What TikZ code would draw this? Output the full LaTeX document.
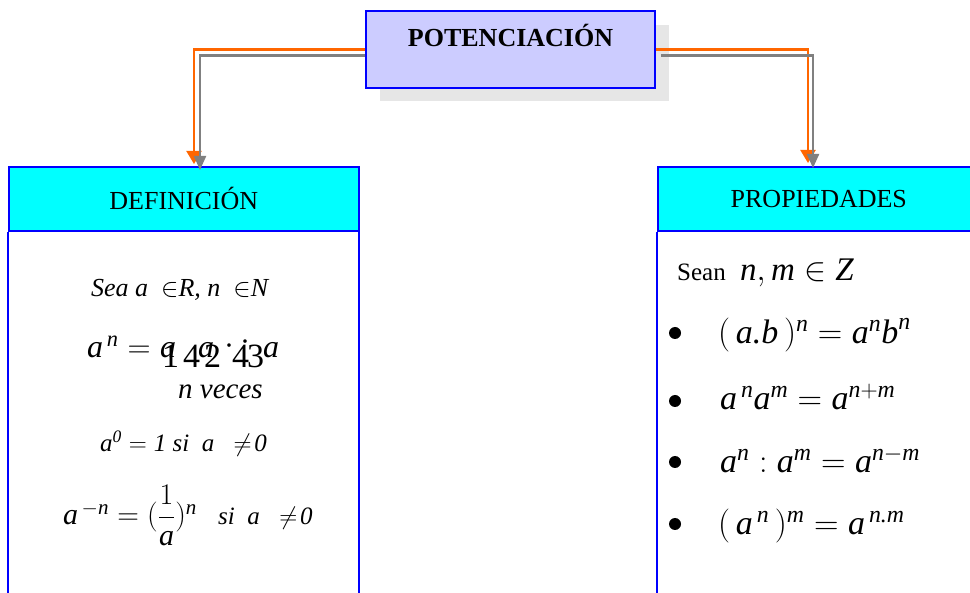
\RequirePackage{fix-cm}
\documentclass[tikz,border=0pt]{standalone}
\usepackage{amsmath}
\usepackage{fontspec}
\setmainfont{Liberation Serif}
\usetikzlibrary{arrows.meta}
\definecolor{bluebd}{HTML}{0000FF}
\definecolor{hdrfill}{HTML}{00FFFF}
\definecolor{ttlfill}{HTML}{CCCCFF}
\definecolor{shadowc}{HTML}{E6E6E6}
\definecolor{orangeln}{HTML}{FF6600}
\definecolor{grayln}{HTML}{808080}
\newcommand\mi[1]{\textit{#1}}
\newcommand\fsz[1]{\fontsize{#1}{#1}\selectfont}
\tikzset{
  hdr/.style={draw=bluebd, line width=1.6pt, fill=hdrfill, minimum height=64pt, anchor=north west, inner sep=0pt, font=\fsz{26}},
  ttl/.style={draw=bluebd, line width=1.6pt, fill=ttlfill, minimum width=289pt, minimum height=77pt, inner sep=0pt},
  bodyln/.style={draw=bluebd, line width=1.8pt},
  conO/.style={draw=orangeln, line width=2.2pt, -{Triangle[width=15pt,length=13pt]}},
  conG/.style={draw=grayln, line width=2.2pt, -{Triangle[width=12pt,length=14pt]}},
  txt/.style={anchor=base west, inner sep=0pt},
  dot/.style={circle, fill=black, minimum size=12pt, inner sep=0pt}
}
\begin{document}
\begin{tikzpicture}[x=1pt,y=-1pt]
\useasboundingbox (0,0) rectangle (970,593);
\clip (0,0) rectangle (970,593);
% shadow of the title
\fill[shadowc] (380,25) rectangle (669,101);
% boxes
\node[hdr, minimum width=350pt] (defh) at (8,166) {DEFINICIÓN};
\draw[bodyln] (defh.south west) -- ++(0,400);
\draw[bodyln] ([xshift=-0.3pt]defh.south east) -- ++(0,400);
\node[hdr, minimum width=322pt] (proph) at (657,166) {PROPIEDADES};
\draw[bodyln] (proph.south west) -- ++(0,400);
% title (placed for connectors)
\node[ttl] (title) at (510.5,49.5) {};
% connectors
\coordinate (lO) at (194,164);
\coordinate (lG) at (200,170);
\coordinate (rO) at (808,163);
\coordinate (rG) at (813,168);
\draw[conO] (title.west) -| (lO);
\draw[conG] ([yshift=-6pt]title.west) -| (lG);
\draw[conO] (title.east) -| (rO);
\draw[conG] ([yshift=-6pt,xshift=5pt]title.east) -| (rG);
\node[ttl] at (title.center) {};
\node[anchor=base, inner sep=0pt, font=\fsz{26}\bfseries] (ttltext) at (510.5,47) {POTENCIACIÓN};
% definition texts
\node[txt, font=\fsz{26}\itshape] (sea) at (91,297) {Sea a \ $\in$R, n \ $\in$N};
\node[txt, font=\fsz{32}] (an) at (87,358) {$\mi{a}^{\,\mi{n}} =$};
\node[txt, font=\fsz{32}\itshape] (a1) at (160,358) {a};
\node[txt, font=\fsz{32}\itshape] (a2) at (198,358) {a};
\node[txt, font=\fsz{32}\itshape] (a3) at (263,358) {a};
\node[txt, font=\fsz{34}] (d1) at (162,368) {1};
\node[txt, font=\fsz{34}] (d2) at (183,368) {4};
\node[txt, font=\fsz{34}] (d3) at (204,368) {2};
\node[txt, font=\fsz{30}] (d4) at (224,356) {·};
\node[txt, font=\fsz{34}] (d5) at (232,368) {4};
\node[txt, font=\fsz{30}] (d6) at (240,352) {·};
\node[txt, font=\fsz{34}] (d7) at (247,368) {3};
\node[txt, font=\fsz{29}\itshape] (veces) at (178,399) {n veces};
\node[txt, font=\fsz{25}] (a0) at (100,452) {$\mi{a}^{\mi{0}} = \mi{1}\ \mi{si}\ \ \mi{a}\ \ \neq\!\mi{0}$};
\node[txt, font=\fsz{30}] (aneg) at (63,525) {$\mi{a}^{\,-\mi{n}} = (\dfrac{1}{\mi{a}})^{\mi{n}}$};
\node[txt, font=\fsz{25}] (sia) at (218,525) {$\mi{si}\ \ \mi{a}\ \ \neq\!\mi{0}$};
% properties texts
\node[txt, font=\fsz{25}] (sean) at (677,281) {Sean};
\node[txt, font=\fsz{33}] (nm) at (740,281) {$\mi{n}, \mi{m} \in \mi{Z}$};
\node[dot] (b1) at (675,333) {};
\node[dot] (b2) at (675,401) {};
\node[dot] (b3) at (675,462) {};
\node[dot] (b4) at (675,524) {};
\node[txt, font=\fsz{34}] (p1) at (718,344) {$(\,\mi{a.b}\,)^{\mi{n}} = \mi{a}^{\mi{n}}\mi{b}^{\mi{n}}$};
\node[txt, font=\fsz{34}] (p2) at (720,410) {$\mi{a}^{\,\mi{n}}\mi{a}^{\mi{m}} = \mi{a}^{\mi{n}+\mi{m}}$};
\node[txt, font=\fsz{34}] (p3) at (720,473) {$\mi{a}^{\mi{n}} : \mi{a}^{\mi{m}} = \mi{a}^{\mi{n}-\mi{m}}$};
\node[txt, font=\fsz{34}] (p4) at (718,535) {$(\,\mi{a}^{\,\mi{n}}\,)^{\mi{m}} = \mi{a}^{\,\mi{n.m}}$};
\end{tikzpicture}
\end{document}
